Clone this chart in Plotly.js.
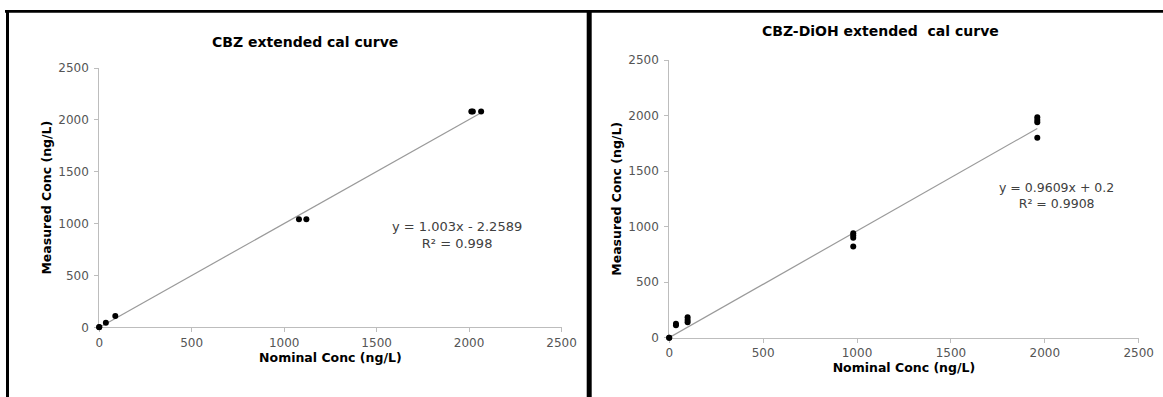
<!DOCTYPE html>
<html>
<head>
<meta charset="utf-8">
<script src="https://cdn.plot.ly/plotly-3.0.1.min.js"></script>
<style>
  html, body { margin: 0; padding: 0; background: #ffffff; }
  #chart { width: 1163px; height: 397px; }
</style>
</head>
<body>
<div id="chart"></div>
<script>
// ---- Data ----
const cbzTitle = "CBZ extended cal curve";
const cbzNominal  = [0, 0, 36, 87, 1080, 1120, 2012, 2020, 2065];
const cbzMeasured = [0, 2, 45, 110, 1041, 1041, 2080, 2080, 2080];
const cbzSlope = 1.003;
const cbzIntercept = -2.2589;
const cbzEquation = "y = 1.003x - 2.2589";
const cbzR2Text = "R² = 0.998";

const diohTitle = "CBZ-DiOH extended  cal curve";
const diohNominal  = [0, 0, 36, 36, 98, 98, 98, 980, 980, 980, 980, 1960, 1960, 1960, 1960];
const diohMeasured = [0, 0, 112, 125, 140, 160, 185, 820, 900, 920, 940, 1800, 1940, 1960, 1985];
const diohSlope = 0.9609;
const diohIntercept = 0.2;
const diohEquation = "y = 0.9609x + 0.2";
const diohR2Text = "R² = 0.9908";

const xTickVals = [0, 500, 1000, 1500, 2000, 2500];
const yTickVals = [0, 500, 1000, 1500, 2000, 2500];
const xAxisTitle = "Nominal Conc (ng/L)";
const yAxisTitle = "Measured Conc (ng/L)";

// ---- Helpers ----
function trend(xs, slope, intercept) {
  const x0 = Math.min.apply(null, xs), x1 = Math.max.apply(null, xs);
  return { x: [x0, x1], y: [slope * x0 + intercept, slope * x1 + intercept] };
}
const W = 1163, H = 397;
const px = v => v / W;
const py = v => 1 - v / H;

const FONT = "DejaVu Sans, Verdana, sans-serif";
const AXIS_COLOR = "#bdbdbd";
const TICK_FONT = { family: FONT, size: 12, color: "#555555" };
const TITLE_FONT = { family: FONT, size: 12.5, color: "#000000", weight: "bold" };

const cbzTrend = trend(cbzNominal, cbzSlope, cbzIntercept);
const diohTrend = trend(diohNominal, diohSlope, diohIntercept);

const traces = [
  { x: cbzTrend.x, y: cbzTrend.y, xaxis: "x", yaxis: "y", mode: "lines",
    line: { color: "#9a9a9a", width: 1.2 }, hoverinfo: "skip", cliponaxis: false },
  { x: cbzNominal, y: cbzMeasured, xaxis: "x", yaxis: "y", mode: "markers",
    marker: { color: "#000000", size: 6, line: { width: 0 } }, cliponaxis: false },
  { x: diohTrend.x, y: diohTrend.y, xaxis: "x2", yaxis: "y2", mode: "lines",
    line: { color: "#9a9a9a", width: 1.2 }, hoverinfo: "skip", cliponaxis: false },
  { x: diohNominal, y: diohMeasured, xaxis: "x2", yaxis: "y2", mode: "markers",
    marker: { color: "#000000", size: 6, line: { width: 0 } }, cliponaxis: false }
];

function xAxis(domain, anchor, standoff) {
  return {
    domain: domain, anchor: anchor, range: [0, 2500],
    tickvals: xTickVals, ticktext: xTickVals.map(String),
    showgrid: false, zeroline: false, showline: true, linecolor: AXIS_COLOR, linewidth: 1,
    ticks: "outside", ticklen: 4, tickcolor: AXIS_COLOR, tickfont: TICK_FONT,
    layer: "below traces",
    title: { text: xAxisTitle, font: TITLE_FONT, standoff: standoff },
    fixedrange: true
  };
}
function yAxis(domain, anchor, standoff) {
  return {
    domain: domain, anchor: anchor, range: [0, 2500],
    tickvals: yTickVals, ticktext: yTickVals.map(String),
    showgrid: false, zeroline: false, showline: true, linecolor: AXIS_COLOR, linewidth: 1,
    ticks: "outside", ticklen: 4, tickcolor: AXIS_COLOR, tickfont: TICK_FONT,
    ticklabelstandoff: 3, layer: "below traces",
    title: { text: yAxisTitle, font: TITLE_FONT, standoff: standoff },
    fixedrange: true
  };
}

const layout = {
  width: W, height: H,
  margin: { l: 0, r: 0, t: 0, b: 0 },
  paper_bgcolor: "#ffffff", plot_bgcolor: "#ffffff",
  showlegend: false,
  xaxis:  xAxis([px(99.2), px(561.6)], "y", 0),
  yaxis:  yAxis([py(327.3), py(68)], "x", 3),
  xaxis2: xAxis([px(669.2), px(1138.7)], "y2", 0),
  yaxis2: yAxis([py(337.7), py(60)], "x2", 3),
  annotations: [
    { text: cbzTitle, xref: "paper", yref: "paper", x: px(305), y: py(42),
      xanchor: "center", yanchor: "middle", showarrow: false,
      font: { family: FONT, size: 14, color: "#000000", weight: "bold" } },
    { text: diohTitle, xref: "paper", yref: "paper", x: px(880), y: py(31),
      xanchor: "center", yanchor: "middle", showarrow: false,
      font: { family: FONT, size: 14, color: "#000000", weight: "bold" } },
    { text: cbzEquation + "<br>" + cbzR2Text, xref: "paper", yref: "paper",
      x: px(457), y: py(235), xanchor: "center", yanchor: "middle", align: "center",
      showarrow: false, font: { family: FONT, size: 13, color: "#404040" } },
    { text: diohEquation + "<br>" + diohR2Text, xref: "paper", yref: "paper",
      x: px(1056), y: py(195), xanchor: "center", yanchor: "middle", align: "center",
      showarrow: false, font: { family: FONT, size: 12.5, color: "#404040" } }
  ],
  shapes: [
    { type: "line", xref: "paper", yref: "paper", x0: px(5), x1: 1, y0: py(11.3), y1: py(11.3),
      line: { color: "#000000", width: 2.7 } },
    { type: "line", xref: "paper", yref: "paper", x0: px(7.5), x1: px(7.5), y0: py(10), y1: 0,
      line: { color: "#000000", width: 3 } },
    { type: "line", xref: "paper", yref: "paper", x0: px(589.2), x1: px(589.2), y0: py(10), y1: 0,
      line: { color: "#000000", width: 5 } }
  ]
};

Plotly.newPlot("chart", traces, layout, { displayModeBar: false, staticPlot: true });
</script>
</body>
</html>
